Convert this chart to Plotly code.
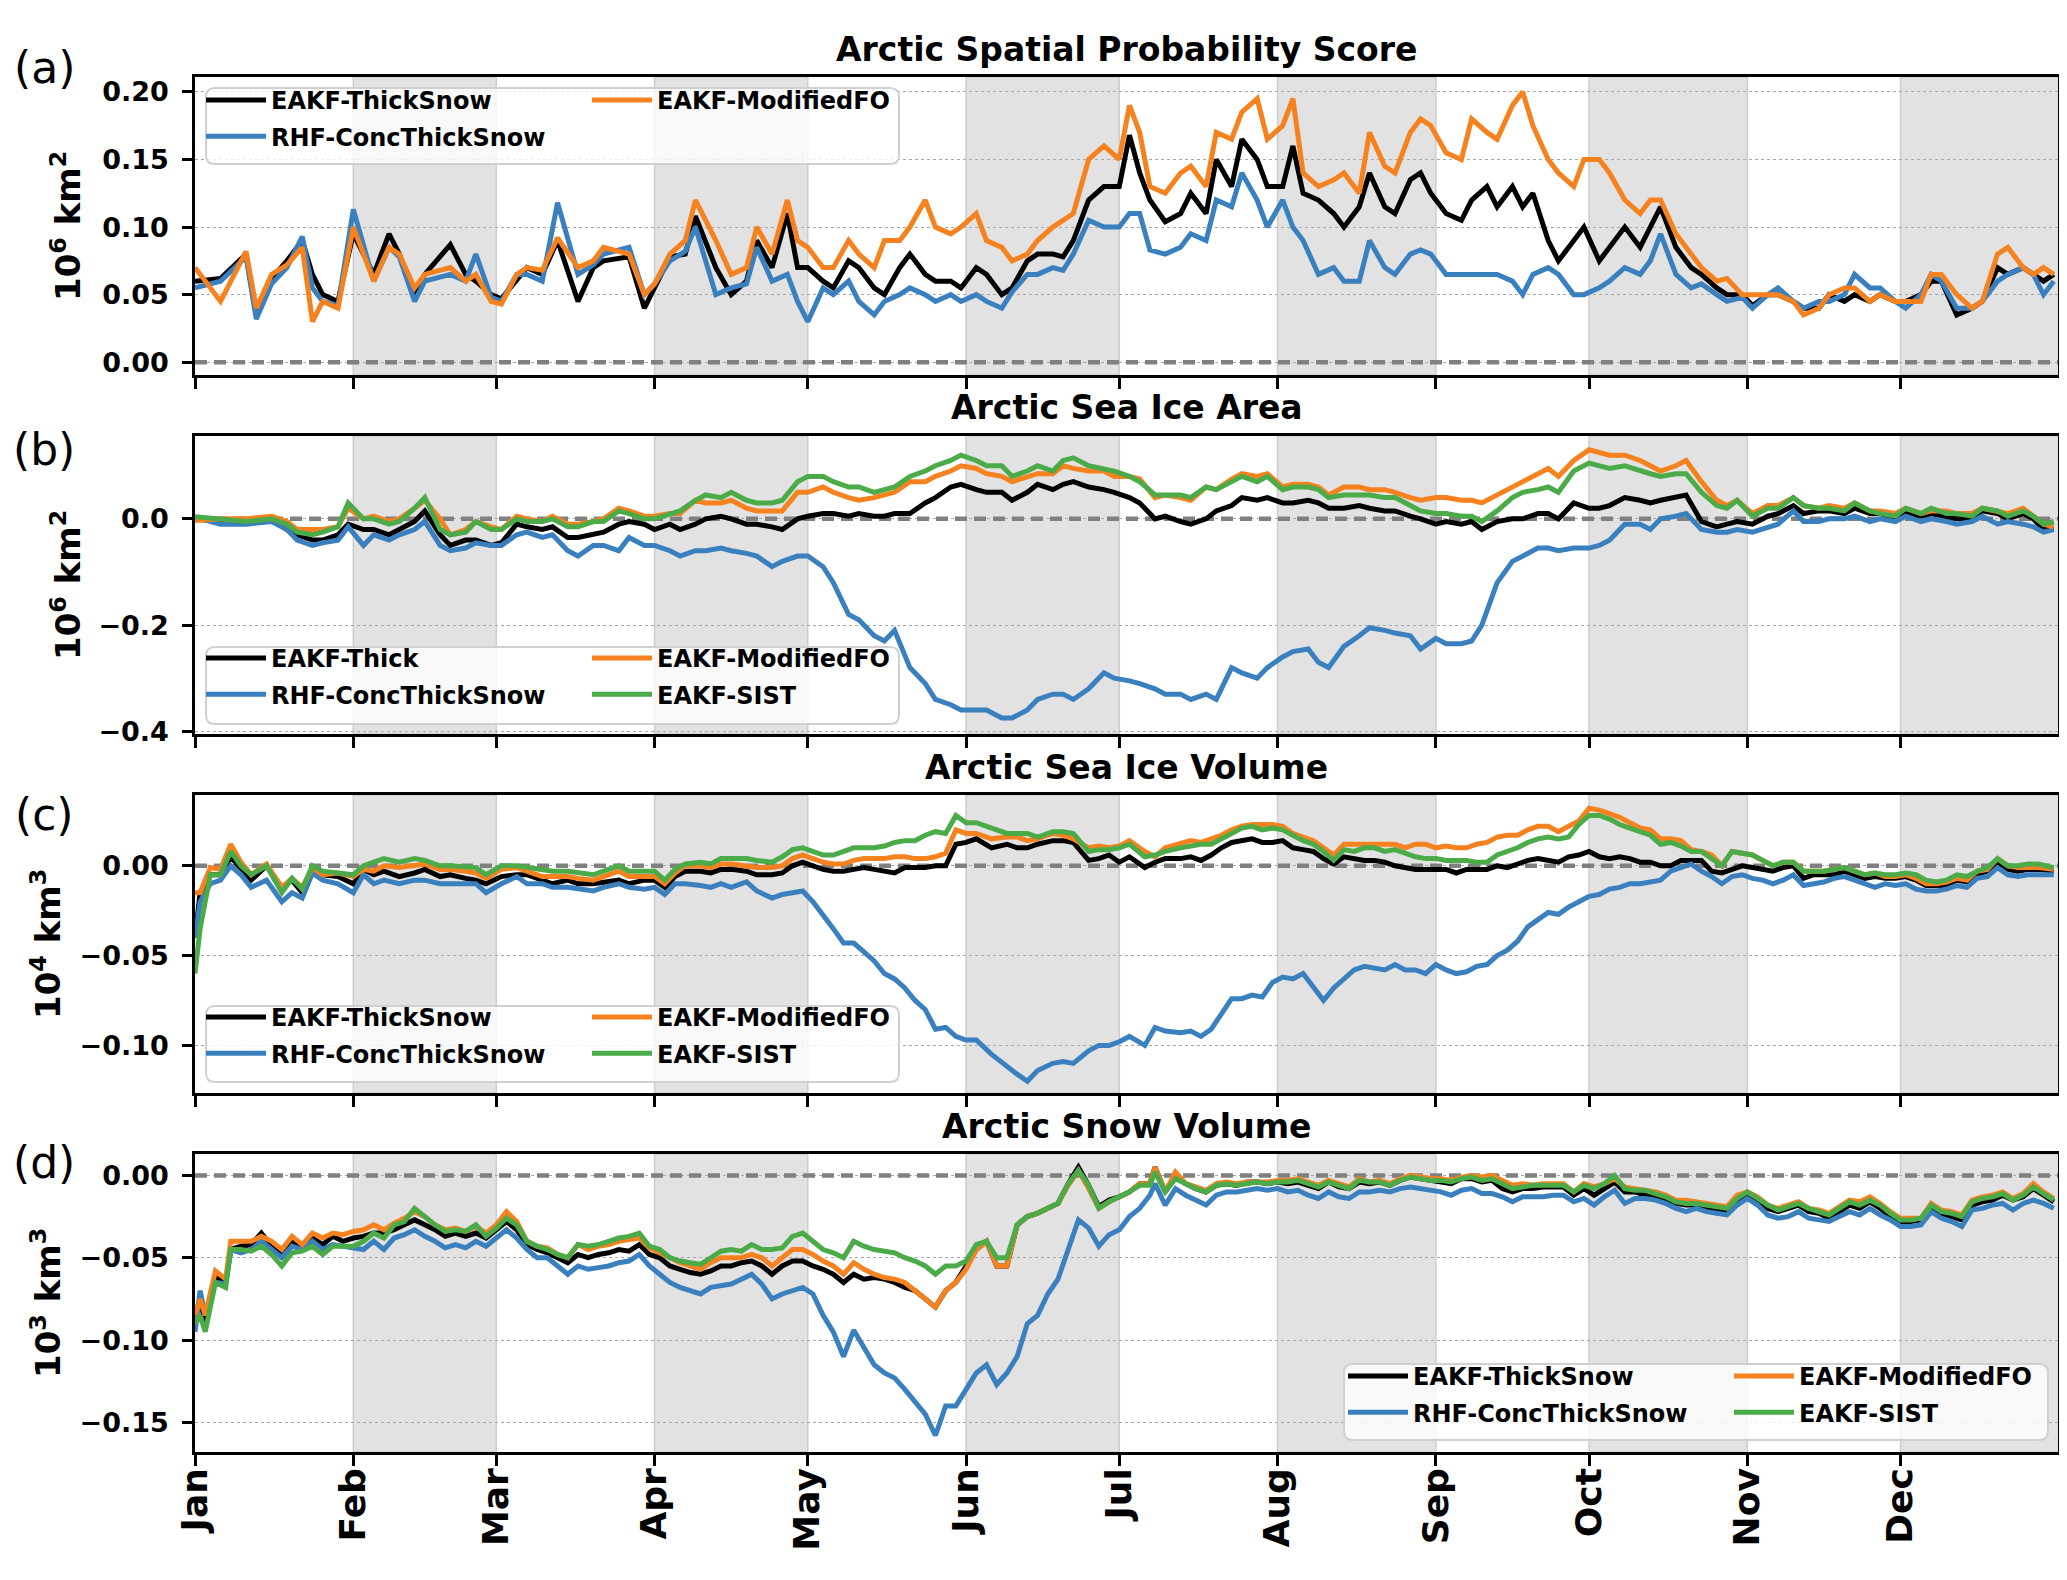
import pandas as pd
import plotly.graph_objects as go

# %% data (day of year, 0 = 1 Jan)
days_a = [0, 5, 10, 12, 15, 18, 21, 23, 25, 28,
          31, 35, 38, 40, 43, 45, 50, 53, 55, 58,
          60, 63, 65, 68, 71, 75, 78, 80, 85, 88,
          90, 93, 96, 98, 102, 105, 108, 110, 113, 116,
          118, 120, 123, 125, 128, 130, 133, 135, 138, 140,
          143, 145, 148, 150, 153, 155, 158, 160, 163, 165,
          168, 170, 172, 175, 178, 181, 183, 185, 187, 190,
          193, 195, 198, 200, 203, 205, 208, 210, 213, 215,
          217, 220, 223, 225, 228, 230, 233, 235, 238, 240,
          242, 245, 248, 250, 253, 255, 258, 260, 262, 265,
          267, 270, 272, 275, 277, 280, 283, 285, 287, 290,
          293, 295, 298, 300, 303, 305, 308, 310, 313, 315,
          318, 320, 323, 325, 328, 330, 333, 335, 338, 340,
          342, 345, 348, 350, 353, 355, 358, 360, 362, 364]
a_thicksnow = [.060, .062, .080, .035, .062, .075, .090, .065, .050, .045,
               .095, .065, .095, .080, .050, .065, .087, .065, .060, .050,
               .047, .060, .070, .065, .090, .045, .070, .075, .078, .040,
               .055, .078, .080, .108, .070, .050, .060, .090, .070, .110,
               .070, .070, .060, .055, .075, .070, .055, .050, .070, .080,
               .065, .060, .060, .055, .070, .065, .050, .055, .075, .080,
               .080, .078, .090, .120, .130, .130, .168, .140, .120, .104,
               .110, .125, .110, .150, .130, .165, .150, .130, .130, .160,
               .125, .120, .110, .100, .115, .140, .115, .110, .135, .140,
               .125, .110, .105, .120, .130, .115, .130, .115, .125, .090,
               .075, .090, .100, .075, .085, .100, .085, .100, .115, .085,
               .070, .065, .055, .050, .050, .042, .050, .050, .045, .040,
               .040, .050, .045, .050, .045, .050, .045, .045, .050, .060,
               .060, .035, .040, .045, .070, .065, .070, .065, .060, .065]
a_rhf = [.055, .060, .078, .032, .058, .070, .093, .055, .045, .042,
         .113, .060, .085, .078, .045, .060, .065, .060, .080, .048,
         .045, .065, .065, .060, .118, .065, .072, .080, .085, .050,
         .058, .075, .082, .100, .050, .055, .058, .085, .060, .065,
         .045, .030, .055, .050, .060, .045, .035, .045, .050, .055,
         .050, .045, .050, .045, .050, .045, .040, .052, .065, .065,
         .070, .068, .080, .105, .100, .100, .110, .110, .083, .080,
         .085, .095, .090, .120, .115, .140, .120, .100, .120, .100,
         .090, .065, .070, .060, .060, .090, .070, .065, .080, .083,
         .080, .065, .065, .065, .065, .065, .060, .050, .065, .070,
         .065, .050, .050, .055, .060, .070, .065, .075, .095, .065,
         .055, .058, .050, .045, .048, .040, .050, .055, .045, .040,
         .045, .045, .050, .065, .055, .055, .045, .040, .050, .065,
         .060, .040, .040, .045, .060, .065, .070, .065, .050, .060]
a_modfo = [.070, .045, .082, .040, .065, .072, .085, .030, .045, .040,
           .100, .060, .085, .080, .055, .065, .070, .060, .065, .045,
           .043, .065, .070, .068, .092, .070, .075, .085, .080, .050,
           .058, .080, .090, .120, .090, .065, .070, .100, .080, .120,
           .090, .085, .070, .070, .090, .080, .070, .090, .090, .100,
           .120, .100, .095, .100, .110, .090, .085, .075, .080, .090,
           .100, .105, .110, .150, .160, .150, .190, .170, .130, .125,
           .140, .145, .130, .170, .165, .185, .195, .165, .175, .195,
           .140, .130, .135, .140, .125, .170, .145, .140, .170, .180,
           .175, .155, .150, .180, .170, .165, .190, .200, .175, .150,
           .140, .130, .150, .150, .140, .120, .110, .120, .120, .095,
           .080, .070, .060, .062, .050, .050, .050, .050, .045, .035,
           .040, .050, .055, .055, .045, .050, .045, .045, .045, .065,
           .065, .050, .040, .045, .080, .085, .070, .065, .070, .065]

days_b = [0, 5, 10, 15, 18, 20, 23, 25, 28, 30,
          33, 35, 38, 40, 43, 45, 48, 50, 53, 55,
          58, 60, 63, 65, 68, 70, 73, 75, 78, 80,
          83, 85, 88, 90, 93, 95, 98, 100, 103, 105,
          108, 110, 113, 115, 118, 120, 123, 125, 128, 130,
          133, 135, 137, 140, 143, 145, 148, 150, 153, 155,
          158, 160, 163, 165, 168, 170, 172, 175, 178, 180,
          183, 185, 188, 190, 193, 195, 198, 200, 203, 205,
          208, 210, 213, 215, 218, 220, 222, 225, 228, 230,
          233, 235, 238, 240, 243, 245, 248, 250, 252, 255,
          258, 260, 263, 265, 267, 270, 273, 275, 277, 280,
          283, 285, 287, 290, 292, 295, 298, 300, 302, 305,
          308, 310, 313, 315, 318, 320, 323, 325, 328, 330,
          333, 335, 338, 340, 343, 345, 348, 350, 353, 355,
          358, 360, 362, 364]
b_thick = [.000, -.005, -.005, .000, -.020, -.030, -.040, -.040, -.030, -.010,
           -.020, -.020, -.030, -.020, -.005, .015, -.030, -.050, -.040, -.040,
           -.050, -.045, -.010, -.015, -.020, -.015, -.035, -.035, -.030, -.025,
           -.010, -.005, -.010, -.020, -.010, -.020, -.010, .000, .005, .000,
           -.010, -.010, -.015, -.020, .000, .005, .010, .010, .005, .010,
           .005, .005, .010, .010, .030, .040, .060, .065, .055, .050,
           .050, .035, .050, .065, .055, .065, .070, .060, .055, .050,
           .040, .030, .000, .005, -.005, -.010, .000, .015, .025, .040,
           .035, .040, .030, .030, .035, .030, .020, .020, .025, .020,
           .015, .015, .005, .000, -.010, -.005, -.010, -.005, -.020, -.005,
           .000, .000, .010, .010, .000, .030, .020, .020, .025, .040,
           .035, .030, .035, .040, .045, -.005, -.015, -.010, -.005, -.010,
           .005, .010, .025, .010, .015, .015, .010, .020, .010, .010,
           .000, .010, .005, .010, .005, .000, .000, .015, .010, .000,
           .010, .000, -.020, -.020]
b_rhf = [.003, -.010, -.010, -.005, -.020, -.040, -.050, -.045, -.040, -.015,
         -.050, -.030, -.040, -.030, -.020, -.005, -.050, -.060, -.055, -.045,
         -.050, -.050, -.030, -.025, -.035, -.030, -.060, -.070, -.050, -.050,
         -.060, -.035, -.050, -.050, -.060, -.070, -.060, -.060, -.055, -.060,
         -.065, -.070, -.090, -.080, -.070, -.070, -.090, -.120, -.180, -.190,
         -.220, -.230, -.210, -.280, -.310, -.340, -.350, -.360, -.360, -.360,
         -.375, -.375, -.360, -.340, -.330, -.330, -.340, -.320, -.290, -.300,
         -.305, -.310, -.320, -.330, -.330, -.340, -.330, -.340, -.280, -.290,
         -.300, -.280, -.260, -.250, -.245, -.270, -.280, -.240, -.220, -.205,
         -.210, -.215, -.220, -.245, -.225, -.235, -.235, -.230, -.200, -.120,
         -.080, -.070, -.055, -.055, -.060, -.055, -.055, -.050, -.040, -.010,
         -.010, -.020, .000, .005, .010, -.020, -.025, -.025, -.020, -.025,
         -.015, -.010, .015, -.005, -.005, .000, .000, .005, -.005, .000,
         -.005, .005, -.005, .000, -.005, -.010, -.005, .005, -.010, -.005,
         -.010, -.015, -.025, -.020]
b_modfo = [-.003, .000, .000, .005, -.005, -.020, -.020, -.020, -.015, .020,
           .000, .005, -.005, .000, .020, .035, .000, -.030, -.020, -.005,
           -.015, -.020, .005, .000, -.005, .005, -.010, -.010, -.005, .000,
           .020, .015, .005, .005, .010, .010, .035, .030, .030, .035,
           .020, .015, .015, .015, .050, .050, .060, .050, .040, .035,
           .040, .045, .050, .070, .070, .080, .090, .100, .095, .085,
           .080, .070, .080, .085, .085, .100, .095, .090, .090, .080,
           .080, .075, .040, .045, .040, .035, .060, .055, .075, .085,
           .080, .085, .060, .065, .065, .060, .045, .060, .060, .055,
           .055, .050, .040, .035, .040, .040, .035, .035, .030, .045,
           .060, .070, .085, .095, .080, .110, .130, .125, .120, .120,
           .110, .100, .090, .100, .110, .070, .035, .025, .035, .010,
           .025, .025, .040, .025, .020, .025, .020, .030, .015, .015,
           .010, .020, .010, .015, .015, .010, .010, .020, .015, .010,
           .020, .005, -.010, -.015]
b_sist = [.004, .000, -.005, .000, -.010, -.025, -.030, -.025, -.015, .030,
          .000, .000, -.010, -.005, .020, .040, -.020, -.030, -.025, -.005,
          -.020, -.020, .000, -.005, -.005, .000, -.015, -.015, -.005, -.005,
          .015, .010, .000, .000, .010, .015, .035, .045, .040, .050,
          .035, .030, .030, .035, .070, .080, .080, .070, .060, .060,
          .050, .055, .060, .080, .090, .100, .110, .120, .110, .100,
          .100, .080, .090, .100, .090, .110, .115, .100, .095, .090,
          .080, .070, .045, .045, .045, .040, .060, .055, .070, .080,
          .070, .080, .055, .060, .060, .055, .040, .045, .045, .045,
          .040, .040, .025, .015, .010, .010, .005, .005, -.005, .015,
          .040, .050, .055, .060, .050, .090, .105, .100, .095, .100,
          .090, .085, .080, .085, .085, .050, .025, .020, .035, .005,
          .020, .020, .040, .025, .020, .020, .015, .030, .015, .010,
          .005, .020, .010, .020, .010, .010, .005, .020, .015, .005,
          .015, .005, -.010, -.005]

days_c = [0, 1, 3, 5, 7, 9, 11, 14, 17, 19,
          21, 23, 25, 28, 31, 33, 35, 37, 40, 43,
          45, 48, 50, 53, 55, 57, 60, 63, 65, 68,
          70, 73, 75, 78, 80, 83, 85, 88, 90, 92,
          94, 96, 99, 101, 103, 105, 108, 110, 113, 115,
          117, 119, 121, 123, 125, 127, 129, 131, 133, 135,
          137, 139, 141, 143, 145, 147, 149, 151, 153, 156,
          159, 161, 163, 165, 168, 170, 172, 175, 177, 179,
          181, 183, 186, 188, 190, 193, 195, 197, 199, 201,
          203, 205, 207, 209, 211, 213, 215, 217, 219, 221,
          223, 225, 227, 229, 231, 233, 235, 237, 239, 241,
          243, 245, 247, 249, 251, 253, 255, 257, 259, 261,
          263, 265, 267, 269, 271, 273, 275, 277, 279, 281,
          283, 285, 287, 289, 291, 293, 295, 297, 299, 301,
          303, 305, 307, 309, 311, 313, 315, 317, 319, 321,
          323, 325, 327, 329, 331, 333, 335, 337, 339, 341,
          343, 345, 347, 349, 351, 353, 355, 357, 359, 361, 364]
c_thicksnow = [-.040, -.015, -.005, -.005, .005, -.002, -.008, .000, -.012, -.008,
               -.015, -.002, -.005, -.006, -.010, -.002, -.005, -.003, -.006, -.004,
               -.002, -.006, -.005, -.007, -.008, -.010, -.006, -.005, -.005, -.008,
               -.010, -.008, -.010, -.010, -.009, -.008, -.010, -.008, -.008, -.012,
               -.006, -.003, -.003, -.004, -.002, -.002, -.003, -.005, -.005, -.004,
               .000, .002, .000, -.002, -.003, -.003, -.002, -.001, -.002, -.003,
               -.004, -.001, -.001, -.001, .000, .000, .012, .013, .015, .010,
               .012, .010, .010, .012, .014, .014, .013, .003, .004, .006,
               .002, .005, -.001, .002, .004, .004, .005, .003, .006, .010,
               .013, .014, .015, .013, .013, .014, .010, .009, .008, .004,
               .001, .005, .004, .003, .003, .002, .000, -.001, -.002, -.002,
               -.002, -.002, -.004, -.002, -.002, -.002, .000, -.001, .001, .003,
               .004, .003, .002, .005, .006, .008, .005, .004, .005, .004,
               .002, .002, .000, .000, .003, .003, .003, -.003, -.004, -.002,
               .000, -.001, -.002, -.003, -.001, .000, -.007, -.005, -.005, -.005,
               -.003, -.005, -.007, -.006, -.007, -.007, -.006, -.008, -.011, -.011,
               -.011, -.008, -.009, -.005, -.003, .002, -.002, -.003, -.002, -.002, -.003]
c_rhf = [-.040, -.020, -.010, -.008, .000, -.005, -.012, -.008, -.020, -.015,
         -.018, -.004, -.008, -.010, -.015, -.005, -.010, -.008, -.010, -.008,
         -.008, -.010, -.010, -.010, -.010, -.015, -.010, -.006, -.010, -.010,
         -.012, -.012, -.013, -.014, -.012, -.010, -.012, -.013, -.012, -.016,
         -.010, -.010, -.011, -.012, -.010, -.012, -.009, -.014, -.018, -.016,
         -.015, -.014, -.020, -.027, -.035, -.043, -.043, -.048, -.053, -.060,
         -.063, -.068, -.075, -.080, -.091, -.090, -.095, -.097, -.097, -.105,
         -.112, -.116, -.120, -.114, -.110, -.109, -.110, -.103, -.100, -.100,
         -.098, -.095, -.100, -.090, -.092, -.093, -.092, -.095, -.091, -.083,
         -.074, -.074, -.072, -.073, -.065, -.062, -.063, -.060, -.067, -.075,
         -.068, -.063, -.058, -.056, -.057, -.058, -.055, -.058, -.058, -.060,
         -.055, -.058, -.060, -.059, -.056, -.055, -.050, -.047, -.042, -.034,
         -.030, -.026, -.027, -.023, -.020, -.017, -.016, -.013, -.012, -.010,
         -.010, -.009, -.008, -.003, -.001, .001, -.003, -.006, -.010, -.006,
         -.005, -.007, -.008, -.010, -.008, -.005, -.011, -.010, -.009, -.007,
         -.006, -.008, -.010, -.012, -.010, -.011, -.010, -.013, -.014, -.014,
         -.013, -.011, -.012, -.007, -.006, -.001, -.005, -.006, -.005, -.005, -.005]
c_modfo = [-.015, -.015, -.001, -.002, .012, .002, -.005, .001, -.012, -.007,
           -.012, -.001, -.005, -.004, -.006, -.002, -.003, .000, -.001, .000,
           .001, -.002, -.002, -.003, -.004, -.007, -.002, -.001, -.003, -.006,
           -.006, -.006, -.007, -.008, -.006, -.003, -.006, -.006, -.006, -.010,
           -.004, .000, .000, -.001, .001, .001, .000, -.001, -.001, .000,
           .004, .006, .004, .002, .001, .001, .003, .004, .004, .004,
           .005, .005, .004, .004, .005, .007, .020, .018, .018, .015,
           .016, .016, .014, .015, .018, .017, .015, .010, .011, .010,
           .011, .014, .008, .005, .010, .012, .014, .013, .015, .017,
           .020, .022, .023, .023, .023, .022, .018, .016, .014, .010,
           .006, .012, .012, .012, .012, .012, .012, .010, .012, .012,
           .010, .011, .010, .010, .012, .013, .016, .017, .017, .020,
           .022, .022, .019, .022, .025, .032, .031, .029, .027, .024,
           .021, .020, .015, .015, .014, .009, .008, .006, .000, .008,
           .007, .006, .003, .000, .002, .002, -.003, -.003, -.003, -.002,
           -.001, -.003, -.005, -.004, -.006, -.006, -.005, -.007, -.010, -.010,
           -.009, -.007, -.008, -.003, -.002, .004, .000, -.001, -.001, -.001, -.002]
c_sist = [-.060, -.035, -.005, -.005, .008, .000, -.005, .000, -.015, -.007,
          -.013, .000, -.003, -.004, -.005, .000, .002, .004, .002, .004,
          .003, .000, .000, -.001, -.001, -.005, .000, .000, -.001, -.002,
          -.003, -.003, -.004, -.005, -.003, .000, -.003, -.003, -.003, -.008,
          -.002, .001, .002, .001, .004, .004, .004, .003, .002, .005,
          .009, .010, .008, .006, .006, .008, .010, .010, .010, .011,
          .013, .014, .014, .017, .019, .018, .028, .024, .024, .021,
          .018, .018, .018, .016, .019, .019, .018, .008, .009, .009,
          .010, .012, .005, .006, .008, .010, .011, .012, .012, .015,
          .018, .021, .022, .020, .021, .020, .017, .014, .012, .008,
          .003, .009, .008, .010, .010, .008, .009, .007, .005, .004,
          .004, .003, .003, .003, .002, .002, .006, .008, .010, .013,
          .015, .016, .015, .016, .023, .028, .028, .026, .023, .021,
          .019, .017, .012, .013, .011, .008, .008, .004, .000, .008,
          .007, .006, .003, .000, .002, .002, -.003, -.003, -.003, -.002,
          -.001, -.003, -.005, -.004, -.005, -.005, -.004, -.005, -.008, -.009,
          -.008, -.005, -.006, -.003, -.001, .004, .000, .000, .001, .001, -.001]

days_d = [0, 1, 2, 4, 6, 7, 9, 11, 13, 15,
          17, 19, 21, 23, 25, 27, 29, 31, 33, 35,
          37, 39, 41, 43, 45, 47, 49, 51, 53, 55,
          57, 59, 61, 63, 65, 67, 69, 71, 73, 75,
          77, 79, 81, 83, 85, 87, 89, 91, 93, 95,
          97, 99, 101, 103, 105, 107, 109, 111, 113, 115,
          117, 119, 121, 123, 125, 127, 129, 131, 133, 135,
          137, 139, 141, 143, 145, 147, 149, 151, 153, 155,
          157, 159, 161, 163, 165, 167, 169, 171, 173, 175,
          177, 179, 181, 183, 185, 187, 188, 190, 192, 194,
          196, 198, 200, 202, 204, 206, 208, 210, 212, 214,
          216, 218, 220, 222, 224, 226, 228, 230, 232, 234,
          236, 238, 240, 242, 244, 246, 248, 250, 252, 254,
          256, 258, 260, 262, 264, 266, 268, 270, 272, 274,
          276, 278, 280, 282, 284, 286, 288, 290, 292, 294,
          296, 298, 300, 302, 304, 306, 308, 310, 312, 314,
          316, 318, 320, 322, 324, 326, 328, 330, 332, 334,
          336, 338, 340, 342, 344, 346, 348, 350, 352, 354,
          356, 358, 360, 362, 364]
d_thicksnow = [-.085, -.075, -.090, -.062, -.065, -.045, -.043, -.042, -.035, -.043,
               -.048, -.040, -.045, -.038, -.042, -.037, -.040, -.038, -.037, -.035,
               -.035, -.033, -.030, -.027, -.030, -.033, -.037, -.035, -.037, -.035,
               -.038, -.033, -.028, -.033, -.042, -.045, -.047, -.050, -.053, -.048,
               -.050, -.048, -.047, -.045, -.046, -.042, -.048, -.050, -.055, -.057,
               -.059, -.060, -.058, -.055, -.055, -.053, -.052, -.055, -.060, -.055,
               -.052, -.052, -.055, -.057, -.060, -.065, -.060, -.063, -.062, -.063,
               -.065, -.068, -.070, -.075, -.080, -.070, -.065, -.055, -.045, -.040,
               -.055, -.055, -.030, -.025, -.023, -.020, -.017, -.005, .005, -.006,
               -.019, -.015, -.013, -.010, -.005, -.005, .005, -.010, .000, -.005,
               -.008, -.010, -.006, -.005, -.006, -.004, -.004, -.005, -.004, -.005,
               -.004, -.006, -.008, -.004, -.007, -.008, -.004, -.005, -.004, -.006,
               -.003, -.001, -.002, -.003, -.004, -.005, -.002, -.002, -.004, -.003,
               -.008, -.010, -.008, -.008, -.007, -.007, -.007, -.012, -.008, -.012,
               -.008, -.004, -.010, -.010, -.012, -.013, -.015, -.017, -.018, -.018,
               -.020, -.021, -.022, -.016, -.012, -.016, -.020, -.022, -.020, -.018,
               -.022, -.023, -.026, -.022, -.018, -.020, -.016, -.020, -.025, -.028,
               -.028, -.027, -.020, -.024, -.025, -.027, -.018, -.016, -.015, -.012,
               -.015, -.013, -.008, -.012, -.016]
d_rhf = [-.095, -.070, -.085, -.065, -.066, -.045, -.047, -.045, -.040, -.045,
         -.050, -.043, -.045, -.040, -.045, -.042, -.043, -.044, -.045, -.040,
         -.045, -.038, -.036, -.033, -.037, -.040, -.044, -.042, -.044, -.040,
         -.043, -.038, -.033, -.038, -.045, -.050, -.050, -.055, -.060, -.055,
         -.057, -.056, -.055, -.053, -.052, -.048, -.055, -.060, -.065, -.068,
         -.070, -.072, -.068, -.067, -.066, -.063, -.060, -.066, -.075, -.072,
         -.070, -.068, -.072, -.085, -.095, -.110, -.094, -.105, -.115, -.120,
         -.123, -.130, -.138, -.145, -.158, -.140, -.140, -.130, -.120, -.115,
         -.127, -.120, -.110, -.090, -.085, -.072, -.063, -.045, -.027, -.032,
         -.043, -.036, -.033, -.025, -.020, -.012, -.005, -.018, -.008, -.012,
         -.015, -.018, -.012, -.010, -.010, -.009, -.008, -.009, -.008, -.010,
         -.009, -.012, -.014, -.010, -.013, -.014, -.010, -.010, -.009, -.010,
         -.008, -.007, -.008, -.009, -.010, -.012, -.009, -.008, -.011, -.011,
         -.013, -.016, -.013, -.013, -.013, -.012, -.012, -.016, -.014, -.018,
         -.013, -.009, -.017, -.014, -.014, -.015, -.017, -.020, -.022, -.020,
         -.022, -.023, -.024, -.018, -.014, -.018, -.024, -.026, -.025, -.022,
         -.026, -.027, -.028, -.025, -.022, -.024, -.020, -.024, -.027, -.031,
         -.031, -.030, -.022, -.026, -.028, -.031, -.021, -.020, -.018, -.017,
         -.021, -.017, -.015, -.017, -.020]
d_modfo = [-.085, -.075, -.085, -.058, -.063, -.040, -.040, -.040, -.037, -.040,
           -.045, -.037, -.042, -.035, -.038, -.035, -.036, -.034, -.033, -.030,
           -.033, -.029, -.026, -.022, -.025, -.030, -.033, -.032, -.034, -.031,
           -.035, -.030, -.022, -.028, -.040, -.043, -.044, -.048, -.050, -.042,
           -.045, -.043, -.042, -.040, -.039, -.038, -.044, -.047, -.050, -.053,
           -.055, -.057, -.053, -.050, -.050, -.050, -.048, -.050, -.055, -.050,
           -.045, -.045, -.048, -.052, -.055, -.060, -.053, -.057, -.060, -.062,
           -.063, -.065, -.070, -.075, -.080, -.070, -.065, -.057, -.045, -.040,
           -.055, -.055, -.030, -.025, -.023, -.020, -.017, -.006, .003, -.008,
           -.020, -.016, -.013, -.010, -.005, -.005, .005, -.010, .002, -.005,
           -.007, -.009, -.005, -.004, -.005, -.004, -.004, -.004, -.003, -.003,
           -.002, -.004, -.006, -.003, -.005, -.007, -.002, -.004, -.003, -.005,
           -.002, .000, -.001, -.002, -.002, -.003, -.001, .000, -.001, .000,
           -.003, -.006, -.005, -.006, -.005, -.005, -.005, -.010, -.005, -.007,
           -.005, -.002, -.007, -.008, -.009, -.010, -.012, -.015, -.015, -.016,
           -.017, -.018, -.019, -.012, -.010, -.013, -.018, -.020, -.018, -.016,
           -.020, -.021, -.023, -.019, -.015, -.016, -.013, -.017, -.022, -.026,
           -.026, -.026, -.017, -.021, -.022, -.024, -.015, -.013, -.012, -.010,
           -.014, -.011, -.005, -.010, -.014]
d_sist = [-.090, -.085, -.095, -.065, -.068, -.045, -.045, -.046, -.043, -.048,
          -.055, -.047, -.046, -.043, -.048, -.043, -.043, -.043, -.040, -.035,
          -.038, -.030, -.028, -.020, -.025, -.030, -.034, -.033, -.034, -.030,
          -.037, -.032, -.026, -.030, -.040, -.043, -.045, -.048, -.050, -.042,
          -.043, -.042, -.040, -.038, -.037, -.035, -.043, -.045, -.050, -.052,
          -.053, -.054, -.050, -.046, -.045, -.046, -.042, -.045, -.045, -.044,
          -.037, -.035, -.040, -.045, -.047, -.050, -.040, -.043, -.045, -.046,
          -.047, -.050, -.052, -.055, -.060, -.055, -.055, -.052, -.042, -.040,
          -.050, -.050, -.030, -.025, -.023, -.020, -.017, -.005, .003, -.006,
          -.020, -.016, -.013, -.010, -.006, -.006, .002, -.010, -.002, -.005,
          -.008, -.010, -.006, -.005, -.006, -.005, -.004, -.005, -.004, -.004,
          -.003, -.005, -.007, -.004, -.006, -.008, -.003, -.004, -.004, -.006,
          -.003, -.001, -.002, -.003, -.003, -.004, -.002, -.001, -.003, -.002,
          -.005, -.008, -.007, -.006, -.006, -.006, -.006, -.010, -.006, -.008,
          -.005, .000, -.008, -.009, -.009, -.011, -.013, -.016, -.017, -.017,
          -.018, -.019, -.020, -.014, -.010, -.014, -.018, -.021, -.019, -.017,
          -.020, -.022, -.024, -.020, -.016, -.018, -.015, -.018, -.023, -.027,
          -.027, -.026, -.018, -.022, -.023, -.025, -.016, -.014, -.013, -.011,
          -.015, -.012, -.007, -.011, -.015]

month_labels = ["Jan", "Feb", "Mar", "Apr", "May", "Jun",
                "Jul", "Aug", "Sep", "Oct", "Nov", "Dec"]

# %% styling
FONT = "DejaVu Sans, Liberation Sans, sans-serif"
BLACK, BLUE, ORANGE, GREEN = "#000000", "#3a7fbe", "#f5821f", "#4aab48"
W_FIG, H_FIG = 2067, 1580
L, R, T, B = 187, 2050, 69, 1444        # plot area in pixels
PW, PH = R - L, B - T

def px_x(p):
    return (p - L) / PW

def px_y(p):
    return (B - p) / PH

def dates(days):
    return pd.Timestamp("2001-01-01") + pd.to_timedelta(days, unit="D")

domains = [[0.7833, 1.0], [0.5222, 0.7389], [0.2611, 0.4778], [0.0, 0.2167]]

panels = [
    dict(title="Arctic Spatial Probability Score", tag="(a)",
         ylab="10<sup>6</sup> km<sup>2</sup>", ylab_x=58,
         yrange=[-0.0094, 0.211], tickvals=[0, 0.05, 0.10, 0.15, 0.20], fmt=".2f",
         series=[(days_a, a_thicksnow, "EAKF-ThickSnow", BLACK, 1),
                 (days_a, a_rhf, "RHF-ConcThickSnow", BLUE, 1),
                 (days_a, a_modfo, "EAKF-ModifiedFO", ORANGE, 2)],
         box=(198, 80, 891, 156), cols=(193, 579), top=70, title_y=42, tag_y=60),
    dict(title="Arctic Sea Ice Area", tag="(b)",
         ylab="10<sup>6</sup> km<sup>2</sup>", ylab_x=58,
         yrange=[-0.405, 0.156], tickvals=[-0.4, -0.2, 0.0], fmt=".1f",
         series=[(days_b, b_thick, "EAKF-Thick", BLACK, 1),
                 (days_b, b_rhf, "RHF-ConcThickSnow", BLUE, 1),
                 (days_b, b_modfo, "EAKF-ModifiedFO", ORANGE, 2),
                 (days_b, b_sist, "EAKF-SIST", GREEN, 2)],
         box=(198, 639, 891, 716), cols=(193, 579), top=628, title_y=399, tag_y=441),
    dict(title="Arctic Sea Ice Volume", tag="(c)",
         ylab="10<sup>4</sup> km<sup>3</sup>", ylab_x=38,
         yrange=[-0.1265, 0.0394], tickvals=[-0.10, -0.05, 0.0], fmt=".2f",
         series=[(days_c, c_thicksnow, "EAKF-ThickSnow", BLACK, 1),
                 (days_c, c_rhf, "RHF-ConcThickSnow", BLUE, 1),
                 (days_c, c_modfo, "EAKF-ModifiedFO", ORANGE, 2),
                 (days_c, c_sist, "EAKF-SIST", GREEN, 2)],
         box=(198, 998, 891, 1074), cols=(193, 579), top=987, title_y=759, tag_y=806),
    dict(title="Arctic Snow Volume", tag="(d)",
         ylab="10<sup>3</sup> km<sup>3</sup>", ylab_x=38,
         yrange=[-0.168, 0.013], tickvals=[-0.15, -0.10, -0.05, 0.0], fmt=".2f",
         series=[(days_d, d_thicksnow, "EAKF-ThickSnow", BLACK, 1),
                 (days_d, d_rhf, "RHF-ConcThickSnow", BLUE, 1),
                 (days_d, d_modfo, "EAKF-ModifiedFO", ORANGE, 2),
                 (days_d, d_sist, "EAKF-SIST", GREEN, 2)],
         box=(1336, 1356, 2040, 1432), cols=(1335, 1721), top=1346, title_y=1118, tag_y=1154),
]


def box_path(x0, y0, x1, y1, r=9):
    # rounded legend frame, pixel corners -> paper coords
    rx, ry = r / PW, r / PH
    a, b, c, d = px_x(x0), px_x(x1), px_y(y0), px_y(y1)
    return (f"M {a+rx},{c} L {b-rx},{c} Q {b},{c} {b},{c-ry} L {b},{d+ry} "
            f"Q {b},{d} {b-rx},{d} L {a+rx},{d} Q {a},{d} {a},{d+ry} "
            f"L {a},{c-ry} Q {a},{c} {a+rx},{c} Z")


fig = go.Figure()
shapes, annotations = [], []
month_starts = [pd.Timestamp(2001, m, 1) for m in range(1, 13)] + [pd.Timestamp(2002, 1, 1)]

for i, p in enumerate(panels):
    n = "" if i == 0 else str(i + 1)
    xa, ya = "x" + n, "y" + n
    leg1, leg2 = "legend" + ("" if i == 0 else str(2 * i + 1)), "legend" + str(2 * i + 2)

    # dashed zero reference line, drawn first so the data sit on top
    fig.add_trace(go.Scatter(
        x=[month_starts[0], month_starts[-1]], y=[0, 0], mode="lines",
        line=dict(color="#808080", width=4.5, dash="12px,7px"),
        xaxis=xa, yaxis=ya, showlegend=False, hoverinfo="skip",
    ))
    for k, (dd, vals, name, col, c) in enumerate(p["series"]):
        fig.add_trace(go.Scatter(
            x=dates(dd), y=vals, name=name, mode="lines",
            line=dict(color=col, width=5),
            xaxis=xa, yaxis=ya, legend=leg1 if c == 1 else leg2,
            legendgroup=f"{i}-{k}",
        ))

    # alternate month shading
    for m in range(1, 12, 2):
        shapes.append(dict(type="rect", xref=xa, yref=ya + " domain",
                           x0=month_starts[m], x1=month_starts[m + 1], y0=0, y1=1,
                           fillcolor="#e2e2e2", line=dict(color="#cdcdcd", width=1.5),
                           layer="below"))
    # legend frame
    x0, y0, x1, y1 = p["box"]
    shapes.append(dict(type="path", xref="paper", yref="paper", path=box_path(x0, y0, x1, y1),
                       fillcolor="rgba(255,255,255,0.8)", line=dict(color="#d0d0d0", width=2),
                       layer="above"))

    for leg, cx in ((leg1, p["cols"][0]), (leg2, p["cols"][1])):
        fig.update_layout({leg: dict(
            x=px_x(cx), y=px_y(p["top"]), xanchor="left", yanchor="top",
            bgcolor="rgba(0,0,0,0)", borderwidth=0, traceorder="grouped",
            tracegroupgap=2, itemwidth=60,
            font=dict(family=FONT, size=24, color="black", weight="bold"),
        )})

    fig.update_layout({
        ("xaxis" + n): dict(
            domain=[0, 1], anchor=ya, type="date",
            range=[pd.Timestamp("2001-01-01"), pd.Timestamp("2001-12-31 20:00")],
            tickvals=month_starts[:12], ticktext=month_labels,
            showticklabels=(i == 3), tickangle=-90, ticklabelstandoff=-12,
            tickfont=dict(family=FONT, size=36, color="black", weight="bold"),
            ticks="outside", ticklen=11, tickwidth=2.5, tickcolor="black",
            showgrid=False, zeroline=False,
            showline=True, linecolor="black", linewidth=2.5, mirror=True,
        ),
        ("yaxis" + n): dict(
            domain=domains[i], anchor=xa, range=p["yrange"],
            tickvals=p["tickvals"], tickformat=p["fmt"],
            tickfont=dict(family=FONT, size=27, color="black", weight="bold"),
            ticks="outside", ticklen=10, tickwidth=2.5, tickcolor="black",
            ticklabelstandoff=8,
            showgrid=True, gridcolor="#a8a8a8", gridwidth=1.2, griddash="dot",
            zeroline=False,
            showline=True, linecolor="black", linewidth=2.5, mirror=True,
        ),
    })

    ymid = (domains[i][0] + domains[i][1]) / 2
    annotations += [
        dict(text=f"<b>{p['title']}</b>", x=0.5, y=px_y(p["title_y"]), xref="paper", yref="paper",
             xanchor="center", yanchor="middle", showarrow=False,
             font=dict(family=FONT, size=33, color="black")),
        dict(text=p["tag"], x=px_x(36), y=px_y(p["tag_y"]), xref="paper", yref="paper",
             xanchor="center", yanchor="middle", showarrow=False,
             font=dict(family=FONT, size=44, color="black")),
        dict(text=f"<b>{p['ylab']}</b>", x=px_x(p["ylab_x"]), y=ymid, xref="paper", yref="paper",
             xanchor="center", yanchor="middle", showarrow=False, textangle=-90,
             font=dict(family=FONT, size=34, color="black")),
    ]

fig.update_layout(
    width=W_FIG, height=H_FIG,
    margin=dict(l=L, r=W_FIG - R, t=T, b=H_FIG - B, autoexpand=False),
    paper_bgcolor="white", plot_bgcolor="white",
    shapes=shapes, annotations=annotations,
    font=dict(family=FONT, color="black"),
)

fig.write_html("out.html")
